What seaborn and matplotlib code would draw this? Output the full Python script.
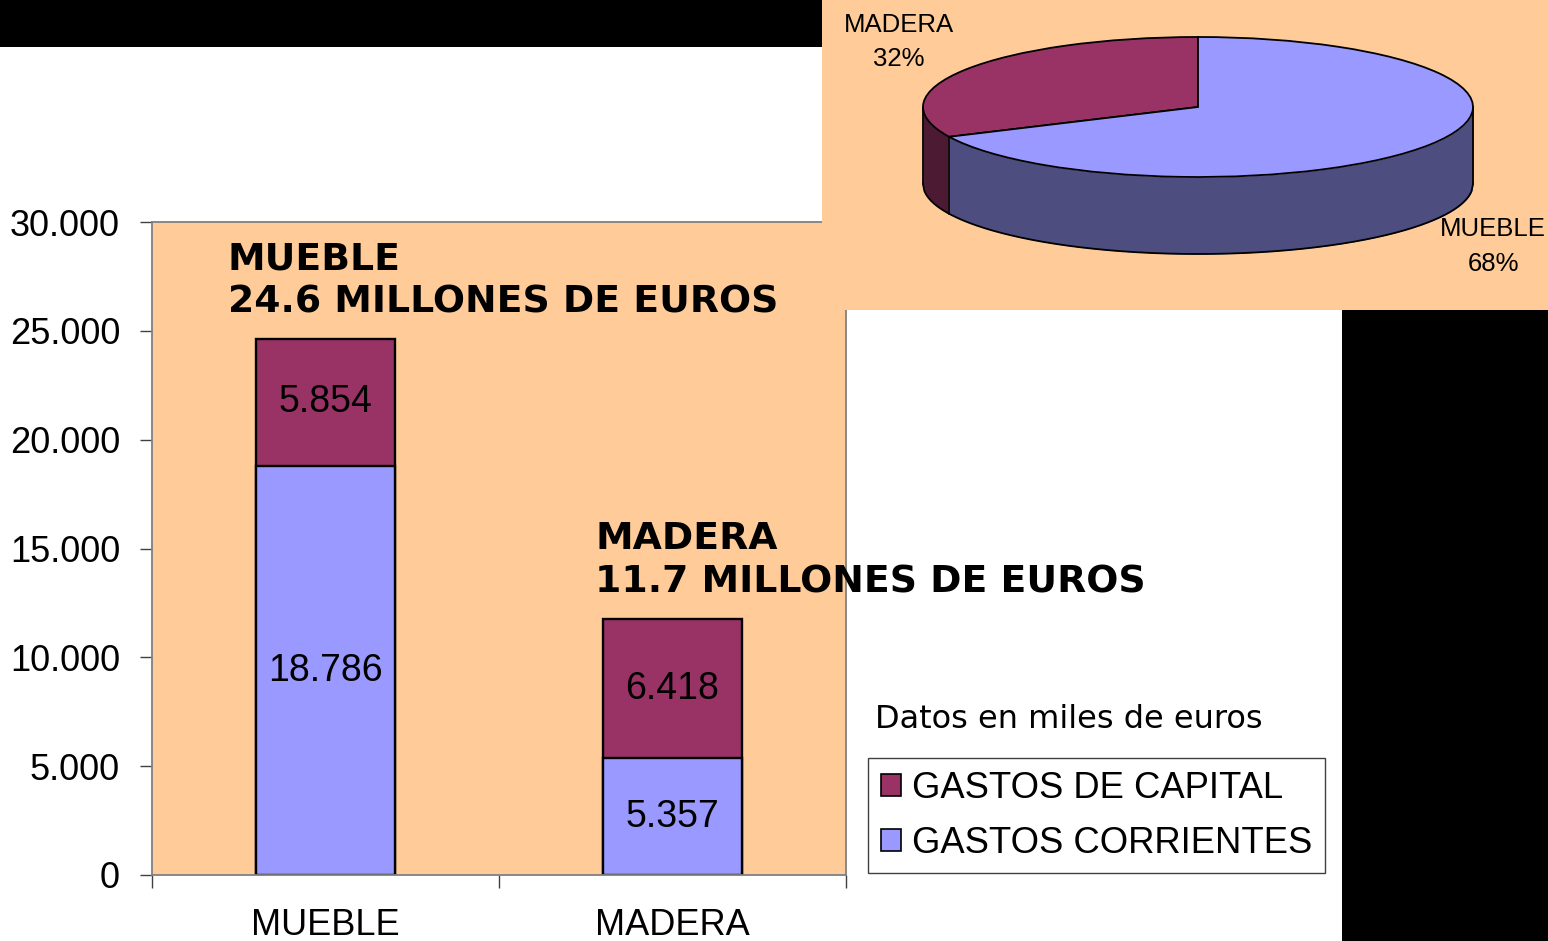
import numpy as np
import matplotlib
matplotlib.use("Agg")
import matplotlib.pyplot as plt
from matplotlib.patches import Patch, Rectangle
from matplotlib.ticker import FuncFormatter
import seaborn as sns
import pandas as pd

# data (miles de euros)
sectores = ["MUEBLE", "MADERA"]
gastos_corrientes = [18786, 5357]
gastos_capital = [5854, 6418]
titulos = ["MUEBLE\n24.6 MILLONES DE EUROS", "MADERA\n11.7 MILLONES DE EUROS"]

pie_labels = ["MADERA", "MUEBLE"]
pie_shares = [32, 68]

# colours
C_CAP = "#993366"
C_COR = "#9999FF"
C_CAP_SIDE = "#4D1A33"
C_COR_SIDE = "#4D4D80"
BG = "#FFCC99"

sns.set_style("white")
plt.rcParams["font.family"] = ["Liberation Sans", "DejaVu Sans"]
plt.rcParams.update({"text.color": "black", "xtick.color": "black", "ytick.color": "black",
                     "axes.labelcolor": "black"})

df = pd.DataFrame({
    "sector": sectores,
    "corrientes": gastos_corrientes,
    "capital": gastos_capital,
})
df["total"] = df["corrientes"] + df["capital"]

W, H = 1548, 941
fig = plt.figure(figsize=(W / 100, H / 100), dpi=100)

# decorative black blocks
fig.add_artist(Rectangle((0, 1 - 47 / H), 822 / W, 47 / H, transform=fig.transFigure,
                         facecolor="black", edgecolor="none", zorder=0))
fig.add_artist(Rectangle((1342 / W, 0), (W - 1342) / W, (H - 310) / H, transform=fig.transFigure,
                         facecolor="black", edgecolor="none", zorder=0))

# --- stacked bar chart ---
ax = fig.add_axes([152 / W, 1 - 875 / H, 694 / W, 653 / H])
ax.set_facecolor(BG)
sns.barplot(data=df, x="sector", y="total", color=C_CAP, width=0.4, saturation=1,
            edgecolor="black", linewidth=1.7, ax=ax)
sns.barplot(data=df, x="sector", y="corrientes", color=C_COR, width=0.4, saturation=1,
            edgecolor="black", linewidth=1.7, ax=ax)

ax.set_xlim(-0.5, 1.5)
ax.set_ylim(0, 30000)
ax.set_yticks(np.arange(0, 30001, 5000))
ax.yaxis.set_major_formatter(FuncFormatter(lambda v, p: f"{v:,.0f}".replace(",", ".")))
ax.set_xticks([-0.5, 0.5, 1.5])
ax.set_xticklabels([])
ax.set_xticks([0, 1], minor=True)
ax.set_xticklabels(sectores, minor=True)
ax.tick_params(axis="x", which="major", bottom=True, length=9, width=1, color="#404040",
               direction="out")
ax.tick_params(axis="x", which="minor", bottom=True, length=0, pad=24, labelsize=26)
ax.tick_params(axis="y", left=True, length=9, width=1, color="#404040", direction="out",
               pad=14, labelsize=26)
ax.set_xlabel("")
ax.set_ylabel("")
for s in ax.spines.values():
    s.set_visible(True)
    s.set_color("#808080")
    s.set_linewidth(1.3)

title_dx = [-0.281, -0.223]
for i, row in df.iterrows():
    ax.text(i, row["corrientes"] / 2, f"{row['corrientes']:,}".replace(",", "."),
            ha="center", va="center", fontsize=27)
    ax.text(i, row["corrientes"] + row["capital"] / 2, f"{row['capital']:,}".replace(",", "."),
            ha="center", va="center", fontsize=27)
    ax.text(i + title_dx[i], row["total"] + 850, titulos[i], ha="left", va="bottom",
            fontsize=27.2, fontweight="bold", family="DejaVu Sans", linespacing=1.25)

fig.text(875 / W, 1 - 719 / H, "Datos en miles de euros", family="DejaVu Sans",
         fontsize=23, va="center", ha="left")

handles = [Patch(facecolor=C_CAP, edgecolor="black", linewidth=1.2, label="GASTOS DE CAPITAL"),
           Patch(facecolor=C_COR, edgecolor="black", linewidth=1.2, label="GASTOS CORRIENTES")]
leg = fig.legend(handles=handles, loc="upper left", bbox_to_anchor=(868 / W, 1 - 758 / H),
                 fontsize=26.2, frameon=True, fancybox=False, framealpha=1, edgecolor="#404040",
                 handlelength=0.55, handleheight=0.55, handletextpad=0.3, borderpad=0.35,
                 labelspacing=0.55, borderaxespad=0)
leg.get_frame().set_linewidth(1)

# --- 3D-look pie ---
pax = fig.add_axes([822 / W, 1 - 310 / H, (W - 822) / W, 310 / H], zorder=5)
pax.set_facecolor(BG)
pax.pie(pie_shares, colors=[C_CAP, C_COR], startangle=90, counterclock=True, frame=True,
        wedgeprops=dict(edgecolor="black", linewidth=1.3, zorder=3))

depth = 1.1
theta_b = np.deg2rad(90 + pie_shares[0] / 100 * 360)
xb = np.cos(theta_b)
xs = np.linspace(-1, 1, 400)
y_top = -np.sqrt(np.clip(1 - xs ** 2, 0, None))
y_bot = y_top - depth
pax.fill_between(xs, y_top, y_bot, where=xs <= xb, color=C_CAP_SIDE, lw=0, zorder=1)
pax.fill_between(xs, y_top, y_bot, where=xs >= xb, color=C_COR_SIDE, lw=0, zorder=1)
pax.plot(xs, y_bot, color="black", lw=1.3, zorder=2)
pax.plot([-1, -1], [0, -depth], color="black", lw=1.3, zorder=2)
pax.plot([1, 1], [0, -depth], color="black", lw=1.3, zorder=2)
yb = -np.sqrt(1 - xb ** 2)
pax.plot([xb, xb], [yb, yb - depth], color="black", lw=1.3, zorder=2)

pax.text(-1.087, 0.93, f"{pie_labels[0]}\n{pie_shares[0]}%", ha="center", va="center",
         fontsize=18.5, linespacing=1.55)
pax.text(1.073, -1.99, f"{pie_labels[1]}\n{pie_shares[1]}%", ha="center", va="center",
         fontsize=18.5, linespacing=1.55)

pax.set_aspect("auto")
pax.set_xlim(-376 / 275, (W - 1198) / 275)
pax.set_ylim(-(310 - 107) / 70, 107 / 70)
pax.set_xticks([])
pax.set_yticks([])
for s in pax.spines.values():
    s.set_visible(False)

fig.savefig("out.png", dpi=100)
